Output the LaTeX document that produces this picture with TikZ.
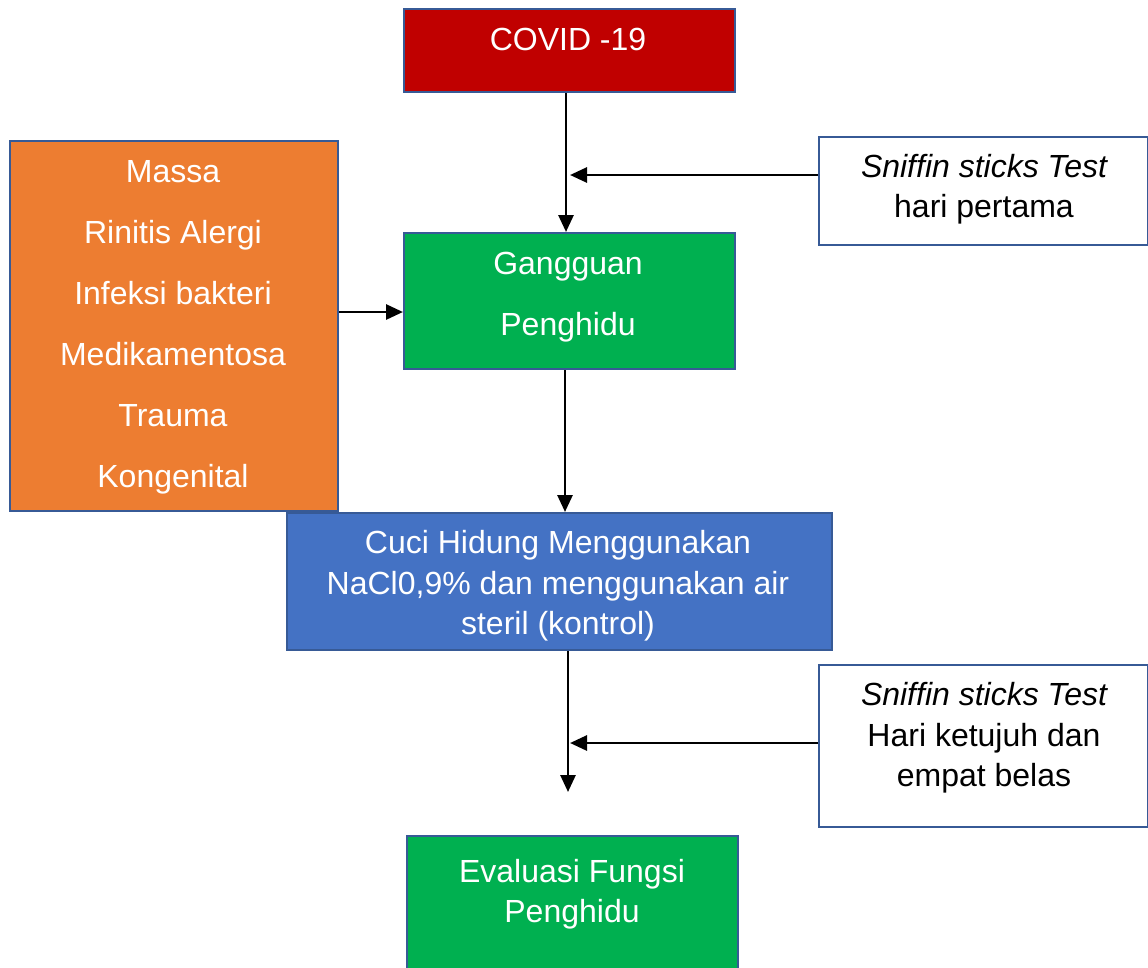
\documentclass[tikz,border=0pt]{standalone}
\usepackage{fontspec}
\setmainfont{Liberation Sans}
\usetikzlibrary{arrows.meta}
\definecolor{cred}{HTML}{C00000}
\definecolor{corange}{HTML}{ED7D31}
\definecolor{cgreen}{HTML}{00B050}
\definecolor{cblue}{HTML}{4472C4}
\definecolor{cborder}{RGB}{55,90,150}
\tikzset{
  boxs/.style={draw=cborder, line width=2.2pt, inner sep=0pt, anchor=north west},
  txt/.style={align=center, inner sep=0pt, font=\fontsize{32}{40.5}\selectfont},
  wtxt/.style={txt, text=white},
  conn/.style={line width=2.8pt, -{Triangle[length=17pt,width=15pt]}},
}
\begin{document}
\begin{tikzpicture}[x=1pt,y=-1pt]
\useasboundingbox (0,0) rectangle (1148,967);
% boxes
\node[boxs, fill=cred, minimum width=331pt, minimum height=83pt] (covid) at (403,8) {};
\node[boxs, fill=corange, minimum width=328pt, minimum height=370pt] (cause) at (9,140) {};
\node[boxs, fill=cgreen, minimum width=331pt, minimum height=136pt] (gang) at (403,232) {};
\node[boxs, fill=cblue, minimum width=545pt, minimum height=137pt] (cuci) at (286,512) {};
\node[boxs, fill=white, minimum width=329pt, minimum height=108pt] (sn1) at (818,136) {};
\node[boxs, fill=white, minimum width=329pt, minimum height=162pt] (sn2) at (818,664) {};
\node[boxs, fill=cgreen, minimum width=331pt, minimum height=150pt] (eval) at (406,835) {};
% texts
\node[wtxt] (tcovid) at (568,39) {COVID -19};
\node[wtxt, font=\fontsize{32}{61}\selectfont] (tcause) at (173,327) {Massa\\Rinitis Alergi\\Infeksi bakteri\\Medikamentosa\\Trauma\\Kongenital};
\node[wtxt, font=\fontsize{32}{61}\selectfont] (tgang) at (568,297) {Gangguan\\Penghidu};
\node[wtxt] (tcuci) at (558,586) {Cuci Hidung Menggunakan\\NaCl0,9\% dan menggunakan air\\steril (kontrol)};
\node[txt] (tsn1) at (984,189) {\itshape Sniffin sticks Test\\hari pertama};
\node[txt] (tsn2) at (984,738) {\itshape Sniffin sticks Test\\Hari ketujuh dan\\empat belas};
\node[wtxt] (teval) at (572,894) {Evaluasi Fungsi\\Penghidu};
% connector ends
\coordinate (j1) at (570,175);
\coordinate (j2) at (570,743);
\coordinate (e2) at (568,792);
% connectors
\draw[conn] (covid.south -| 566,0) -- (gang.north -| 566,0);
\draw[conn] (sn1.west |- j1) -- (j1);
\draw[conn] (cause.east |- 0,312) -- (gang.west |- 0,312);
\draw[conn] (gang.south -| 565,0) -- (cuci.north -| 565,0);
\draw[conn] (cuci.south -| e2) -- (e2);
\draw[conn] (sn2.west |- j2) -- (j2);
\end{tikzpicture}
\end{document}
